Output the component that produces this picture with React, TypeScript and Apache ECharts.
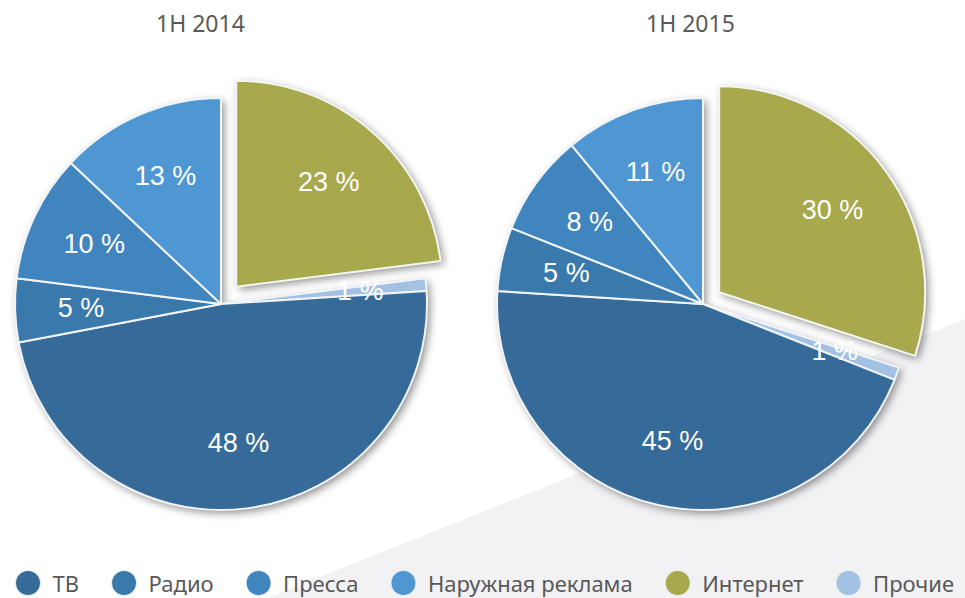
import React, { useEffect, useRef } from "react";
import * as echarts from "echarts";

const years = ["1H 2014", "1H 2015"];
const categories = ["Интернет", "Прочие", "ТВ", "Радио", "Пресса", "Наружная реклама"];
const values2014 = [23, 1, 48, 5, 10, 13];
const values2015 = [30, 1, 45, 5, 8, 11];
const legendOrder = ["ТВ", "Радио", "Пресса", "Наружная реклама", "Интернет", "Прочие"];
const explodedCategory = "Интернет";

const colorMap: Record<string, string> = {
  "ТВ": "#366B99",
  "Радио": "#3A79AC",
  "Пресса": "#4185BF",
  "Наружная реклама": "#4E97D3",
  "Интернет": "#A8A84C",
  "Прочие": "#A3C1E3",
};

const R = 206;

function buildSeries(values: number[], center: [number, number], offset: number) {
  const mk = (extra: (name: string) => any) =>
    categories.map((name, i) => ({
      name,
      value: values[i],
      selected: name === explodedCategory,
      ...extra(name),
    }));
  const common = {
    type: "pie",
    center,
    startAngle: 90,
    clockwise: true,
    selectedMode: "multiple",
    selectedOffset: offset,
    avoidLabelOverlap: false,
    silent: true,
    emphasis: { disabled: true },
    labelLine: { show: false },
  };
  return [
    {
      ...common,
      z: 1,
      radius: [0, R],
      data: mk(() => ({})),
      label: { show: false },
      itemStyle: {
        color: "#ffffff",
        shadowBlur: 8,
        shadowColor: "rgba(0,0,0,0.45)",
        shadowOffsetX: 3,
        shadowOffsetY: 3,
      },
      select: { itemStyle: { color: "#ffffff", borderWidth: 0 } },
    },
    {
      ...common,
      z: 2,
      radius: [0, R],
      data: mk((name) => ({
        itemStyle: { color: colorMap[name] },
        select: { itemStyle: { color: colorMap[name], borderColor: "#F4F6F2", borderWidth: 2 } },
      })),
      label: { show: false },
      itemStyle: { borderColor: "#F1F4F8", borderWidth: 2 },
    },
    {
      ...common,
      z: 3,
      radius: [0, R * 1.33],
      data: mk(() => ({})),
      itemStyle: { color: "rgba(0,0,0,0)", borderWidth: 0 },
      select: { itemStyle: { color: "rgba(0,0,0,0)", borderWidth: 0 } },
      label: {
        show: true,
        position: "inside",
        formatter: "{c} %",
        color: "#ffffff",
        fontSize: 27,
        fontFamily: "Liberation Sans, Arial, sans-serif",
      },
    },
  ];
}

export default function App() {
  const ref = useRef<HTMLDivElement>(null);
  useEffect(() => {
    if (!ref.current) return;
    const chart = echarts.init(ref.current, undefined, { renderer: "svg" });
    chart.setOption({
      animation: false,
      backgroundColor: "#ffffff",
      title: [
        {
          text: years[0],
          left: 151,
          top: 6,
          textStyle: { color: "#595959", fontSize: 23, fontWeight: "normal", fontFamily: "Noto Sans" },
        },
        {
          text: years[1],
          left: 641,
          top: 6,
          textStyle: { color: "#595959", fontSize: 23, fontWeight: "normal", fontFamily: "Noto Sans" },
        },
      ],
      graphic: [
        {
          type: "polygon",
          z: 0,
          silent: true,
          shape: { points: [[267, 598], [965, 319], [965, 598]] },
          style: { fill: "#F2F1F4" },
        },
      ],
      legend: {
        data: legendOrder.map((name) => ({ name, itemStyle: { color: colorMap[name], borderColor: "#E8EEF5", borderWidth: 1 } })),
        icon: "circle",
        left: 15,
        top: 570,
        width: 950,
        padding: 0,
        itemWidth: 25,
        itemHeight: 25,
        itemGap: 32,
        selectedMode: false,
        textStyle: { color: "#595959", fontSize: 22, fontFamily: "Noto Sans", padding: [0, 0, 0, 7] },
      },
      series: [
        ...buildSeries(values2014, [221, 304], 23),
        ...buildSeries(values2015, [703, 304], 20),
      ],
    });
    return () => chart.dispose();
  }, []);
  return (
    <div
      ref={ref}
      style={{ position: "fixed", left: 0, top: 0, width: 965, height: 598 }}
    />
  );
}
